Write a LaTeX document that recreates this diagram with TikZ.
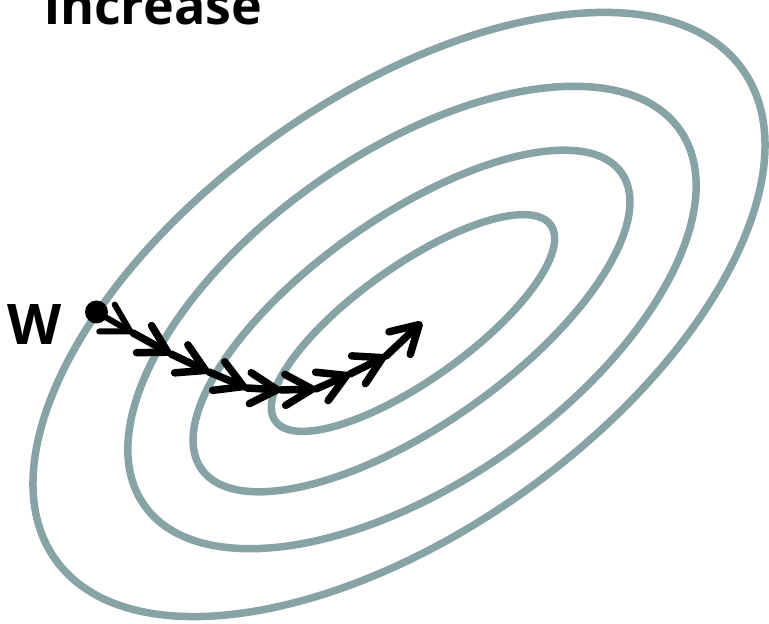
\documentclass[tikz,border=0pt]{standalone}
\usepackage{fontspec}
\setmainfont{Open Sans}
\usetikzlibrary{arrows.meta}
\definecolor{contourcol}{RGB}{135,163,165}
\begin{document}
\begin{tikzpicture}[x=1pt,y=1pt,
  contourline/.style={draw=contourcol, line width=7.5pt},
  steparrow/.style={line width=7.5pt, line cap=round,
    -{Straight Barb[length=27pt, width=31pt, line cap=round, line join=round]}},
  lbl/.style={font=\fontsize{52}{60}\selectfont\bfseries, inner sep=0pt}]
\useasboundingbox (0,0) rectangle (769,624);
\clip (0,0) rectangle (769,624);
% contours
\draw[contourline, rotate around={35.5:(399,309.5)}] (399,309.5) ellipse [x radius=422, y radius=217];
\draw[contourline, rotate around={35:(412,306.5)}] (412,306.5) ellipse [x radius=327, y radius=165];
\draw[contourline, rotate around={35.2:(411.5,303)}] (411.5,303) ellipse [x radius=257, y radius=104];
\draw[contourline, rotate around={35.4:(413,301)}] (413,301) ellipse [x radius=169, y radius=57];
% texts
\node[lbl, anchor=base west] (title) at (44,599) {increase};
\node[lbl, font=\fontsize{56}{64}\selectfont\bfseries, anchor=base west] (wlabel) at (7,279) {W};
% start point
\node[circle, fill=black, minimum size=23pt, inner sep=0pt] (p0) at (96.5,312) {};
\coordinate (p1) at (133,291);
\coordinate (p2) at (171,270);
\coordinate (p3) at (209,252);
\coordinate (p4) at (247,236);
\coordinate (p5) at (281,234);
\coordinate (p6) at (316,235);
\coordinate (p7) at (350,250);
\coordinate (p8) at (386,268);
\coordinate (p9) at (422,302);
\draw[steparrow, line width=6pt] (p0.center) -- (p1);
\draw[steparrow] (p1) -- (p2);
\draw[steparrow] (p2) -- (p3);
\draw[steparrow] (p3) -- (p4);
\draw[steparrow] (p4) -- (p5);
\draw[steparrow] (p5) -- (p6);
\draw[steparrow] (p6) -- (p7);
\draw[steparrow] (p7) -- (p8);
\draw[steparrow] (p8) -- (p9);
\end{tikzpicture}
\end{document}
